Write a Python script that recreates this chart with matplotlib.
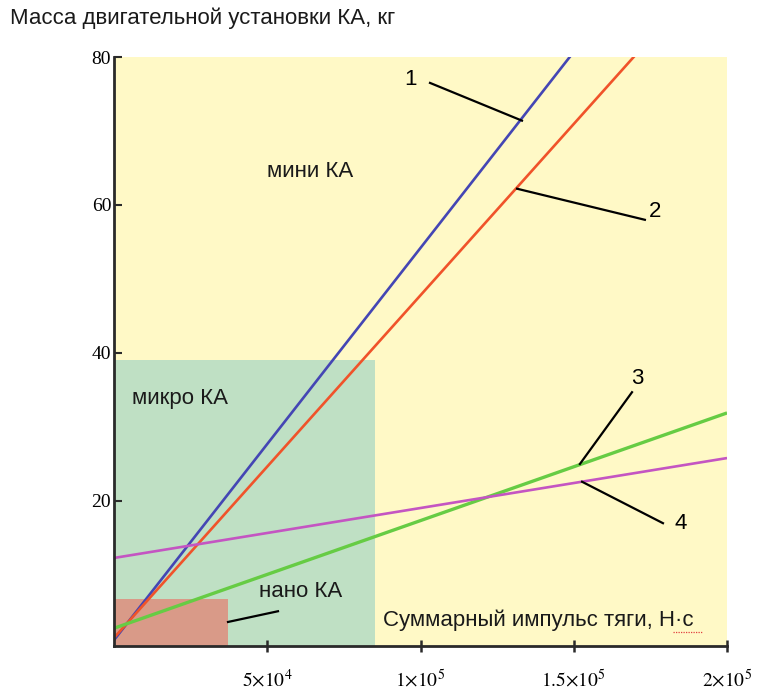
import numpy as np
import matplotlib
matplotlib.use("Agg")
import matplotlib.pyplot as plt
from matplotlib.patches import Rectangle

plt.rcParams['mathtext.fontset'] = 'stix'

# Total impulse range, N*s
impulse = [0, 2.0e5]

# Propulsion system mass, kg (straight lines 1-4)
mass_1 = [1.2, 107.2]
mass_2 = [1.5, 94.1]
mass_3 = [2.8, 31.9]
mass_4 = [12.3, 25.8]

line_names = ['1', '2', '3', '4']
line_colors = ['#4446b4', '#f0532a', '#66cc44', '#c455c2']

# Spacecraft class zones: (impulse limit, mass limit)
zone_micro = (8.5e4, 39.0)
zone_nano = (3.72e4, 6.8)

# Leader lines for the curve numbers: (text pos, line start, line end)
leaders = [
    ((9.66e4, 76.9), (1.031e5, 76.5), (1.331e5, 71.4)),
    ((1.765e5, 59.1), (1.732e5, 58.0), (1.315e5, 62.2)),
    ((1.706e5, 36.6), (1.690e5, 34.7), (1.520e5, 25.0)),
    ((1.848e5, 17.0), (1.791e5, 17.0), (1.527e5, 22.6)),
]

x_ticks = [5e4, 1e5, 1.5e5, 2e5]
x_tick_labels = [r'$5{\times}10^4$', r'$1{\times}10^5$',
                 r'$1.5{\times}10^5$', r'$2{\times}10^5$']
y_ticks = [20, 40, 60, 80]

fig = plt.figure(figsize=(7.62, 6.91), dpi=100)
ax = fig.add_axes([0.1496, 0.0651, 0.8045, 0.8524])
ax.set_facecolor('#fff9c6')
ax.set_xlim(0, 2e5)
ax.set_ylim(0.4, 80)

ax.add_patch(Rectangle((0, 0), zone_micro[0], zone_micro[1],
                       facecolor='#bfe0c4', edgecolor='none', zorder=1))
ax.add_patch(Rectangle((0, 0), zone_nano[0], zone_nano[1],
                       facecolor='#d99a88', edgecolor='none', zorder=1.5))

for name, masses, color in zip(line_names, [mass_1, mass_2, mass_3, mass_4], line_colors):
    lw = 2.4 if name == '3' else 1.9
    ax.plot(impulse, masses, color=color, lw=lw, zorder=3, solid_capstyle='butt')

for label, (txt_pos, p0, p1) in zip(line_names, leaders):
    ax.plot([p0[0], p1[0]], [p0[1], p1[1]], color='black', lw=1.6, zorder=4)
    ax.text(txt_pos[0], txt_pos[1], label, fontsize=16, family='Liberation Sans',
            ha='center', va='center', zorder=5)

# nano zone leader
ax.plot([3.72e4, 5.35e4], [3.65, 5.1], color='black', lw=1.6, zorder=4)

text_kw = dict(fontsize=16, family='Liberation Sans', color='#1a1a1a', zorder=5)
ax.text(6.4e4, 64.5, 'мини КА', ha='center', va='center', **text_kw)
ax.text(5.9e3, 33.8, 'микро КА', ha='left', va='center', **text_kw)
ax.text(4.73e4, 7.8, 'нано КА', ha='left', va='center', **text_kw)
ax.text(8.78e4, 3.9, 'Суммарный импульс тяги, Н·с', ha='left', va='center', **text_kw)
# spell-check underline under the unit
ax.plot([1.825e5, 1.923e5], [2.3, 2.3], color='#e04040', lw=0.9, ls=(0, (1, 1)), zorder=5)

fig.text(0.013, 0.974, 'Масса двигательной установки КА, кг', fontsize=16,
         family='Liberation Sans', color='#1a1a1a', ha='left', va='center')

for side in ['top', 'right']:
    ax.spines[side].set_visible(False)
for side in ['left', 'bottom']:
    ax.spines[side].set_linewidth(2)
    ax.spines[side].set_color('#2a2a2a')
    ax.spines[side].set_zorder(6)

ax.set_xticks(x_ticks)
ax.set_xticklabels(x_tick_labels)
ax.set_yticks(y_ticks)
ax.set_yticklabels([str(v) for v in y_ticks])
ax.tick_params(axis='x', direction='inout', length=9, width=1.8, color='#2a2a2a',
               labelsize=14, pad=12)
ax.tick_params(axis='y', direction='in', length=6, width=1.5, color='#2a2a2a',
               labelsize=14, pad=2)
for lbl in ax.get_yticklabels():
    lbl.set_family('Liberation Serif')

fig.savefig('out.png', dpi=100, facecolor='white')
